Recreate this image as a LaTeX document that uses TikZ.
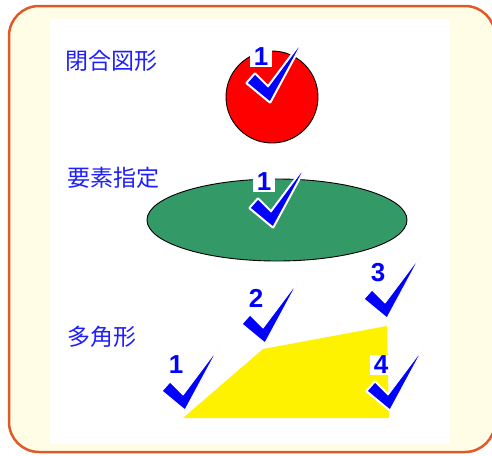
\documentclass[tikz,border=0pt]{standalone}
\usepackage{fontspec}
\setmainfont{Liberation Sans}
\newfontfamily\jpfont{Noto Sans CJK JP}
\definecolor{frameorange}{RGB}{224,90,40}
\definecolor{framefill}{RGB}{255,253,230}
\definecolor{labelblue}{RGB}{30,30,255}
\definecolor{tickblue}{RGB}{0,0,255}
\definecolor{ovalgreen}{RGB}{51,153,102}
\tikzset{
  title/.style={anchor=west, inner sep=0pt, text=labelblue,
    font=\jpfont\fontsize{23}{26}\selectfont},
  num/.style={fill=white, text=tickblue, inner xsep=4pt, inner ysep=1.5pt,
    font=\bfseries\fontsize{26}{28}\selectfont},
  tickshape/.style={fill=tickblue, draw=white, line width=1pt, line join=round},
}
% check mark: #1,#2 = point of the tick, #3 = number, #4 = node name
\newcommand{\tick}[4]{%
  \begin{scope}[shift={(#1,#2)}]
    \path[draw=white, line width=3pt, line join=round]
      (0,0) -- (-23,-19) -- (-15,-28) -- (-2,-15) -- (34,-63) -- cycle;
    \path[tickshape]
      (0,0) -- (-23,-19) -- (-15,-28) -- (-2,-15) -- (34,-63) -- cycle;
    \node[num] (#4) at (-9,-45) {#3};
  \end{scope}}

\begin{document}
\begin{tikzpicture}[x=1pt, y=-1pt]
  \useasboundingbox (0,0) rectangle (492,455);
  % frame
  \draw[frameorange, line width=2.5pt, fill=framefill, rounded corners=30pt]
    (9,6) rectangle (495,452);
  \fill[white] (50,19) rectangle (450,444);

  % closed figure
  \node[title] (closed) at (65,61) {閉合図形};
  \draw[fill=red, line width=0.9pt] (272,97) circle[radius=46];
  \tick{270}{102}{1}{c1}

  % element
  \node[title] (element) at (67,178) {要素指定};
  \draw[fill=ovalgreen, line width=0.9pt] (277,220) ellipse[x radius=130, y radius=41];
  \tick{273}{227}{1}{e1}

  % polygon
  \node[title] (polygon) at (67,337) {多角形};
  \fill[yellow] (183,418) -- (263,349) -- (387,326) -- (389,418) -- cycle;
  \tick{185}{410}{1}{p1}
  \tick{265}{343}{2}{p2}
  \tick{387}{318}{3}{p3}
  \tick{390}{410}{4}{p4}
\end{tikzpicture}
\end{document}
